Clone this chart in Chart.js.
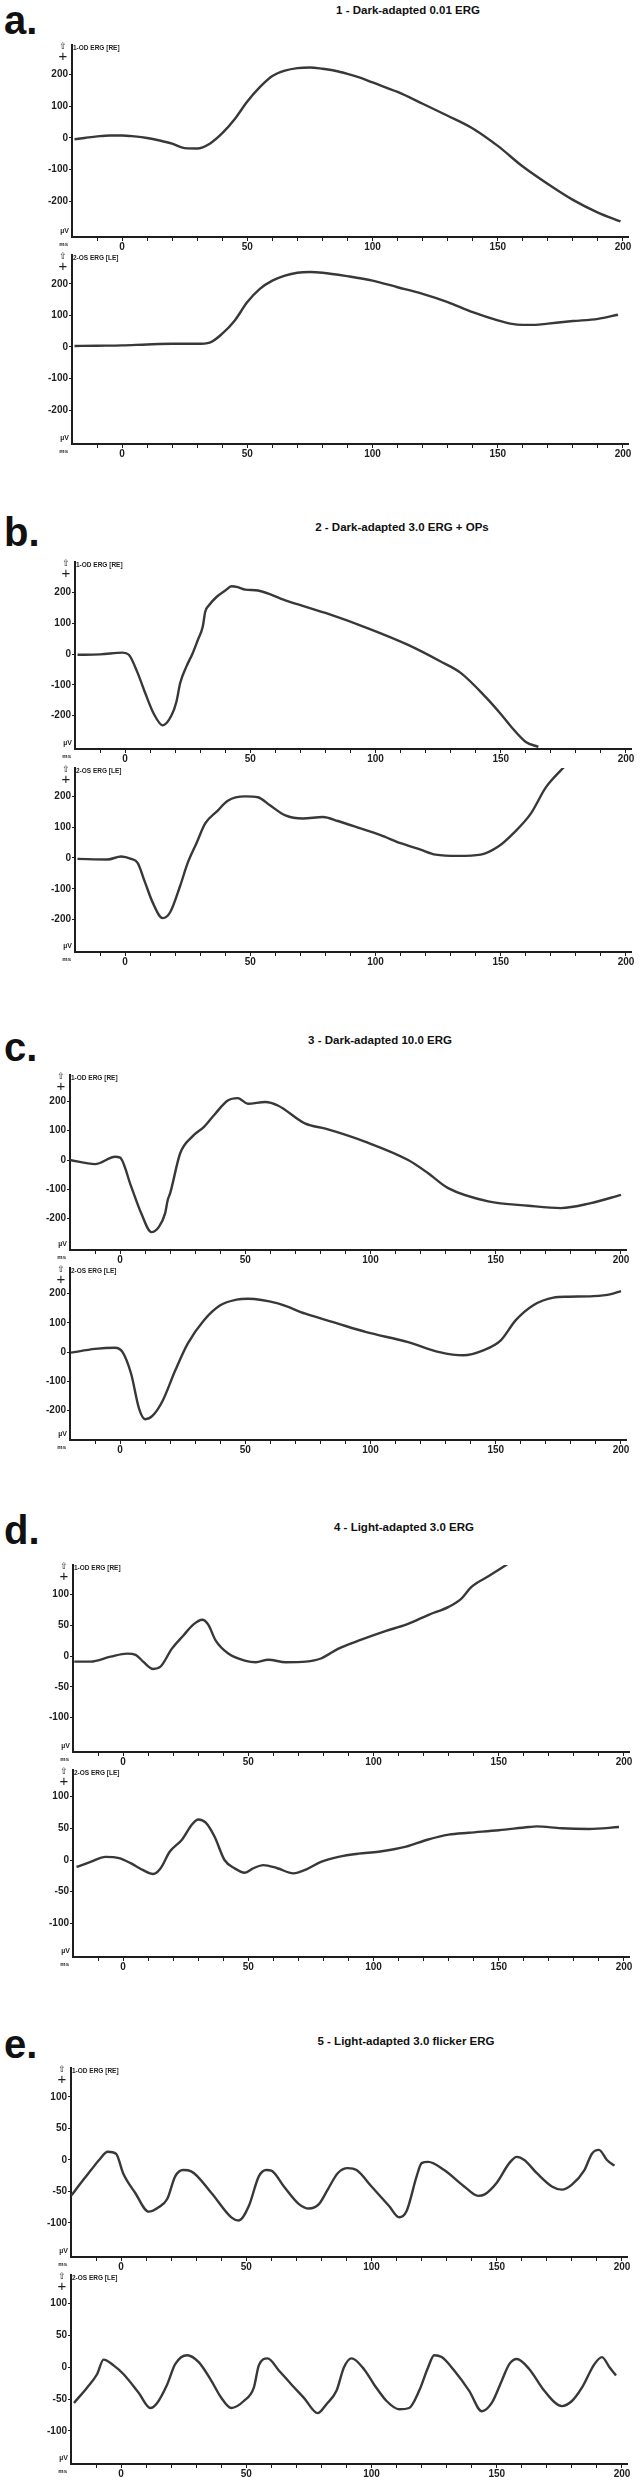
<!DOCTYPE html>
<html>
<head>
<meta charset="utf-8">
<script src="https://cdn.jsdelivr.net/npm/chart.js@4.4.1/dist/chart.umd.min.js"></script>
<style>
body{margin:0;background:#fff;width:640px;height:2481px;position:relative;overflow:hidden;font-family:"Liberation Sans",Arial,sans-serif;}
.letra{position:absolute;left:4px;font-weight:bold;font-size:40px;line-height:40px;color:#111;}
.titulo{position:absolute;font-weight:bold;font-size:11.5px;line-height:14px;color:#111;transform:translateX(-50%);white-space:nowrap;}
.caja{position:absolute;left:0;}
</style>
</head>
<body>
<script>
// Textos
const letras = ['a.', 'b.', 'c.', 'd.', 'e.'];
const titulos = ['1 - Dark-adapted 0.01 ERG', '2 - Dark-adapted 3.0 ERG + OPs', '3 - Dark-adapted 10.0 ERG', '4 - Light-adapted 3.0 ERG', '5 - Light-adapted 3.0 flicker ERG'];
const canales = ['1-OD ERG [RE]', '2-OS ERG [LE]'];

// Ticks
const ticksX = [-10, 0, 10, 20, 30, 40, 50, 60, 70, 80, 90, 100, 110, 120, 130, 140, 150, 160, 170, 180, 190, 200];
const etiquetasX = [0, 50, 100, 150, 200];
const ticksY300 = [-200, -100, 0, 100, 200];
const ticksY150 = [-100, -50, 0, 50, 100];

// a - Dark-adapted 0.01
const aRE_ms = [-19, -15, -10, -5, 0, 5, 10, 15, 20, 25, 30, 35, 40, 45, 50, 55, 60, 65, 70, 75, 80, 85, 90, 95, 100, 110, 120, 130, 140, 150, 160, 170, 180, 190, 199];
const aRE_uV = [-4, 0, 5, 8, 8, 5, 0, -8, -18, -32, -33, -18, 15, 60, 115, 160, 195, 212, 220, 222, 218, 212, 202, 190, 175, 145, 108, 70, 30, -25, -90, -145, -195, -235, -263];
const aLE_ms = [-19, -10, 0, 10, 20, 30, 35, 40, 45, 50, 55, 60, 65, 70, 75, 80, 90, 100, 110, 120, 130, 140, 150, 155, 160, 165, 170, 180, 190, 198];
const aLE_uV = [3, 4, 5, 8, 10, 10, 14, 42, 84, 142, 184, 210, 226, 235, 237, 235, 224, 210, 189, 168, 142, 110, 84, 74, 70, 70, 74, 82, 89, 102];

// b - Dark-adapted 3.0 + OPs
const bRE_ms = [-19, -10, -1, 1.5, 5, 8, 11.5, 15, 18.5, 20.5, 22, 24.5, 27, 29, 31, 32, 33.5, 36.5, 40, 42.5, 45, 48, 53, 64, 80, 97, 113, 126, 134, 144, 150, 154, 160, 165];
const bRE_uV = [-2, -1, 5, -2, -61, -126, -195, -232, -200, -155, -94, -40, 3, 45, 89, 138, 159, 186, 207, 221, 218, 210, 207, 175, 134, 84, 30, -24, -61, -140, -195, -235, -286, -302];
const bLE_ms = [-19, -7, -1.6, 2.4, 5, 8, 11, 15, 18, 22, 25, 28.5, 32, 37, 41, 48, 53, 58, 64, 71, 79, 85, 94, 102, 110, 118, 124, 133, 142, 149, 155, 162, 168, 175, 177];
const bLE_uV = [-3, -5, 5, -3, -16, -80, -144, -195, -176, -90, -16, 48, 112, 154, 186, 200, 197, 170, 138, 128, 133, 120, 96, 74, 48, 27, 11, 7, 11, 37, 80, 144, 229, 293, 310];

// c - Dark-adapted 10.0
const cRE_ms = [-20, -10, -2, 0, 4.4, 8.4, 12.5, 15.5, 18, 19, 20, 24, 28.7, 33.5, 38, 43, 47, 51, 58, 63, 74, 82, 98, 115, 123, 131, 147, 163, 176, 188, 200];
const cRE_uV = [0, -14, 11, 8, -90, -181, -246, -228, -181, -137, -113, 23, 79, 113, 158, 203, 211, 192, 198, 186, 124, 107, 62, 0, -45, -96, -141, -156, -164, -147, -119];
const cLE_ms = [-19.6, -10, -2, 1, 4.4, 7.6, 10, 13, 17, 22, 27, 33.5, 40, 46.5, 51, 63, 74, 87, 98, 115, 127.5, 137, 145, 152, 158, 165, 173, 179, 189, 196, 200];
const cLE_uV = [-2, 11, 15, 0, -74, -194, -229, -217, -166, -63, 29, 109, 160, 179, 182, 166, 131, 97, 69, 34, 0, -11, 6, 40, 109, 160, 186, 189, 191, 198, 208];

// d - Light-adapted 3.0
const dRE_ms = [-19.5, -13, -5, 1.6, 5, 8, 12, 15, 19.5, 24, 28, 31.6, 34, 37, 42, 49, 53, 58, 65, 73, 79, 86, 94, 105, 113, 122, 130, 135, 139, 146, 154, 157];
const dRE_uV = [-9, -9, -1, 4, 2, -9, -21, -17, 12, 33, 51, 59, 51, 25, 4, -8, -10, -6, -10, -9, -4, 12, 25, 41, 51, 67, 80, 93, 112, 130, 151, 160];
const dLE_ms = [-18.6, -13, -7, -1.6, 3, 8, 12, 15, 18.6, 23.5, 27.5, 30, 33, 36.5, 40.5, 44.5, 48.6, 52, 56, 61.6, 68, 73, 79, 86, 94, 102, 113, 121.5, 130, 138, 150, 162, 165, 175, 186, 198];
const dLE_uV = [-11, -3, 5, 3, -5, -16, -22, -13, 13, 32, 56, 64, 59, 37, 0, -13, -20, -13, -8, -13, -21, -15, -3, 5, 10, 13, 21, 32, 40, 43, 47, 52, 53, 50, 49, 52];

// e - Light-adapted 3.0 flicker
const eRE_ms = [-20, -15, -12, -8.8, -5.3, -2, 0.8, 5.6, 11, 15, 18.4, 21.6, 24.8, 28, 36, 44, 47, 51, 55, 58, 60, 65, 71, 75, 79, 82.5, 86.5, 90.5, 94, 100, 107, 111, 114, 118, 120, 122.6, 129, 137, 142.6, 145, 150, 155, 158, 161, 166, 172, 176, 180, 185, 188, 190.8, 194, 197];
const eRE_uV = [-57, -31, -16, 0, 13, 10, -21, -52, -82, -75, -62, -26, -16, -18, -52, -91, -96, -73, -26, -16, -17, -42, -70, -77, -70, -47, -21, -13, -16, -42, -73, -91, -81, -26, -5, -3, -16, -42, -57, -55, -36, -5, 5, 0, -21, -42, -47, -39, -16, 10, 16, 0, -9];
const eLE_ms = [-18.8, -13.6, -9.6, -7, -3, 1, 7, 11.7, 14.4, 18.4, 21.6, 26.4, 31, 36, 40, 44, 49, 53, 55, 58.5, 63, 68, 73, 78.5, 82, 86, 89, 92, 97, 101, 106, 111, 115, 119, 122.6, 125, 128, 133, 139, 144, 148, 152, 155, 158, 163, 169, 176, 180, 184, 189, 192, 195, 197.6];
const eLE_uV = [-56, -32, -11, 12, 3, -11, -40, -64, -56, -27, 5, 19, 8, -21, -48, -64, -53, -32, 3, 14, -5, -27, -48, -72, -58, -37, 0, 14, -3, -27, -53, -66, -64, -37, 0, 19, 16, -5, -37, -69, -56, -21, 5, 13, -3, -37, -61, -53, -32, 5, 16, 0, -13];

// Posiciones de cada panel (px)
const paneles = [
        {letraY: 0, tituloY: 3, tituloX: 408, dx: 0, rangos: [[-312, 293], [-307, 291]], ticksY: ticksY300, cajas: [[45, 237], [255, 444]], series: [[aRE_ms, aRE_uV], [aLE_ms, aLE_uV]]},
        {letraY: 512, tituloY: 520, tituloX: 402, dx: 3, rangos: [[-309, 300], [-305, 292]], ticksY: ticksY300, cajas: [[562, 749], [768, 952]], series: [[bRE_ms, bRE_uV], [bLE_ms, bLE_uV]]},
        {letraY: 1027, tituloY: 1033, tituloX: 380, dx: -2, rangos: [[-307, 290], [-300, 287]], ticksY: ticksY300, cajas: [[1075, 1250], [1268, 1440]], series: [[cRE_ms, cRE_uV], [cLE_ms, cLE_uV]]},
        {letraY: 1510, tituloY: 1520, tituloX: 404, dx: 1, rangos: [[-156, 148], [-153, 142]], ticksY: ticksY150, cajas: [[1565, 1752], [1770, 1957]], series: [[dRE_ms, dRE_uV], [dLE_ms, dLE_uV]]},
        {letraY: 2024, tituloY: 2034, tituloX: 406, dx: -1, rangos: [[-154, 146], [-152, 145]], ticksY: ticksY150, cajas: [[2068, 2257], [2275, 2464]], series: [[eRE_ms, eRE_uV], [eLE_ms, eLE_uV]]}
];

const PAD_TOP = 14;
const ALTO_X = 20;
const COLOR_EJE = '#1e1e1e';

Chart.defaults.font.family = '"Liberation Sans", Arial, sans-serif';

// Flecha, +, canal y unidades en cada grafico
const marcas = {
        id: 'marcas',
        afterDraw(chart, args, opts) {
                const ctx = chart.ctx;
                const ca = chart.chartArea;
                ctx.save();
                ctx.fillStyle = COLOR_EJE;
                ctx.textBaseline = 'middle';
                ctx.textAlign = 'center';
                ctx.font = '9px "DejaVu Sans"';
                ctx.fillText('⇧', ca.left - 9, ca.top + 2);
                ctx.font = '15px "Liberation Sans"';
                ctx.fillText('+', ca.left - 9, ca.top + 12);
                ctx.textAlign = 'left';
                ctx.font = 'bold 6.5px "Liberation Sans"';
                ctx.fillText(opts.canal, ca.left + 1, ca.top + 3);
                ctx.textAlign = 'right';
                ctx.font = 'bold 7px "Liberation Sans"';
                ctx.fillText('µV', ca.left - 3, ca.bottom - 6);
                ctx.font = 'bold 6px "Liberation Sans"';
                ctx.fillText('ms', ca.left - 4, ca.bottom + 7);
                ctx.restore();
        }
};

function crearGrafico(caja, dx, ms, uV, rango, ticksY, canal) {
        const alto = caja[1] - caja[0] + PAD_TOP + ALTO_X;
        const div = document.createElement('div');
        div.className = 'caja';
        div.style.top = (caja[0] - PAD_TOP) + 'px';
        const canvas = document.createElement('canvas');
        canvas.width = 640;
        canvas.height = alto;
        div.appendChild(canvas);
        document.body.appendChild(div);

        return new Chart(canvas, {
                type: 'line',
                data: {
                        datasets: [{
                                data: ms.map((t, i) => ({x: t, y: uV[i]})),
                                borderColor: '#383838',
                                borderWidth: 2.4,
                                pointRadius: 0,
                                cubicInterpolationMode: 'monotone',
                                fill: false
                        }]
                },
                plugins: [marcas],
                options: {
                        responsive: false,
                        animation: false,
                        layout: {padding: {top: PAD_TOP, left: 0, right: 12 - dx, bottom: 0}},
                        plugins: {legend: {display: false}, tooltip: {enabled: false}, marcas: {canal: canal}},
                        scales: {
                                x: {
                                        type: 'linear', min: -20, max: 202,
                                        afterBuildTicks: s => { s.ticks = ticksX.map(v => ({value: v})); },
                                        afterFit: s => { s.height = ALTO_X; },
                                        ticks: {
                                                autoSkip: false, maxRotation: 0, padding: 0, color: COLOR_EJE,
                                                font: {size: 10, weight: 'bold'},
                                                callback: v => etiquetasX.includes(v) ? String(v) : ''
                                        },
                                        grid: {drawOnChartArea: false, tickLength: 4, color: COLOR_EJE, lineWidth: 1},
                                        border: {display: true, color: COLOR_EJE, width: 2}
                                },
                                y: {
                                        type: 'linear', min: rango[0], max: rango[1],
                                        afterBuildTicks: s => { s.ticks = ticksY.map(v => ({value: v})); },
                                        afterFit: s => { s.width = 72 + dx; },
                                        ticks: {padding: 1, color: COLOR_EJE, font: {size: 10, weight: 'bold'}},
                                        grid: {drawOnChartArea: false, tickLength: 3, color: COLOR_EJE, lineWidth: 1},
                                        border: {display: true, color: COLOR_EJE, width: 2}
                                }
                        }
                }
        });
}

paneles.forEach((p, i) => {
        const l = document.createElement('div');
        l.className = 'letra';
        l.style.top = p.letraY + 'px';
        l.textContent = letras[i];
        document.body.appendChild(l);

        const t = document.createElement('div');
        t.className = 'titulo';
        t.style.top = p.tituloY + 'px';
        t.style.left = p.tituloX + 'px';
        t.textContent = titulos[i];
        document.body.appendChild(t);

        p.cajas.forEach((caja, j) => {
                crearGrafico(caja, p.dx, p.series[j][0], p.series[j][1], p.rangos[j], p.ticksY, canales[j]);
        });
});
</script>
</body>
</html>
